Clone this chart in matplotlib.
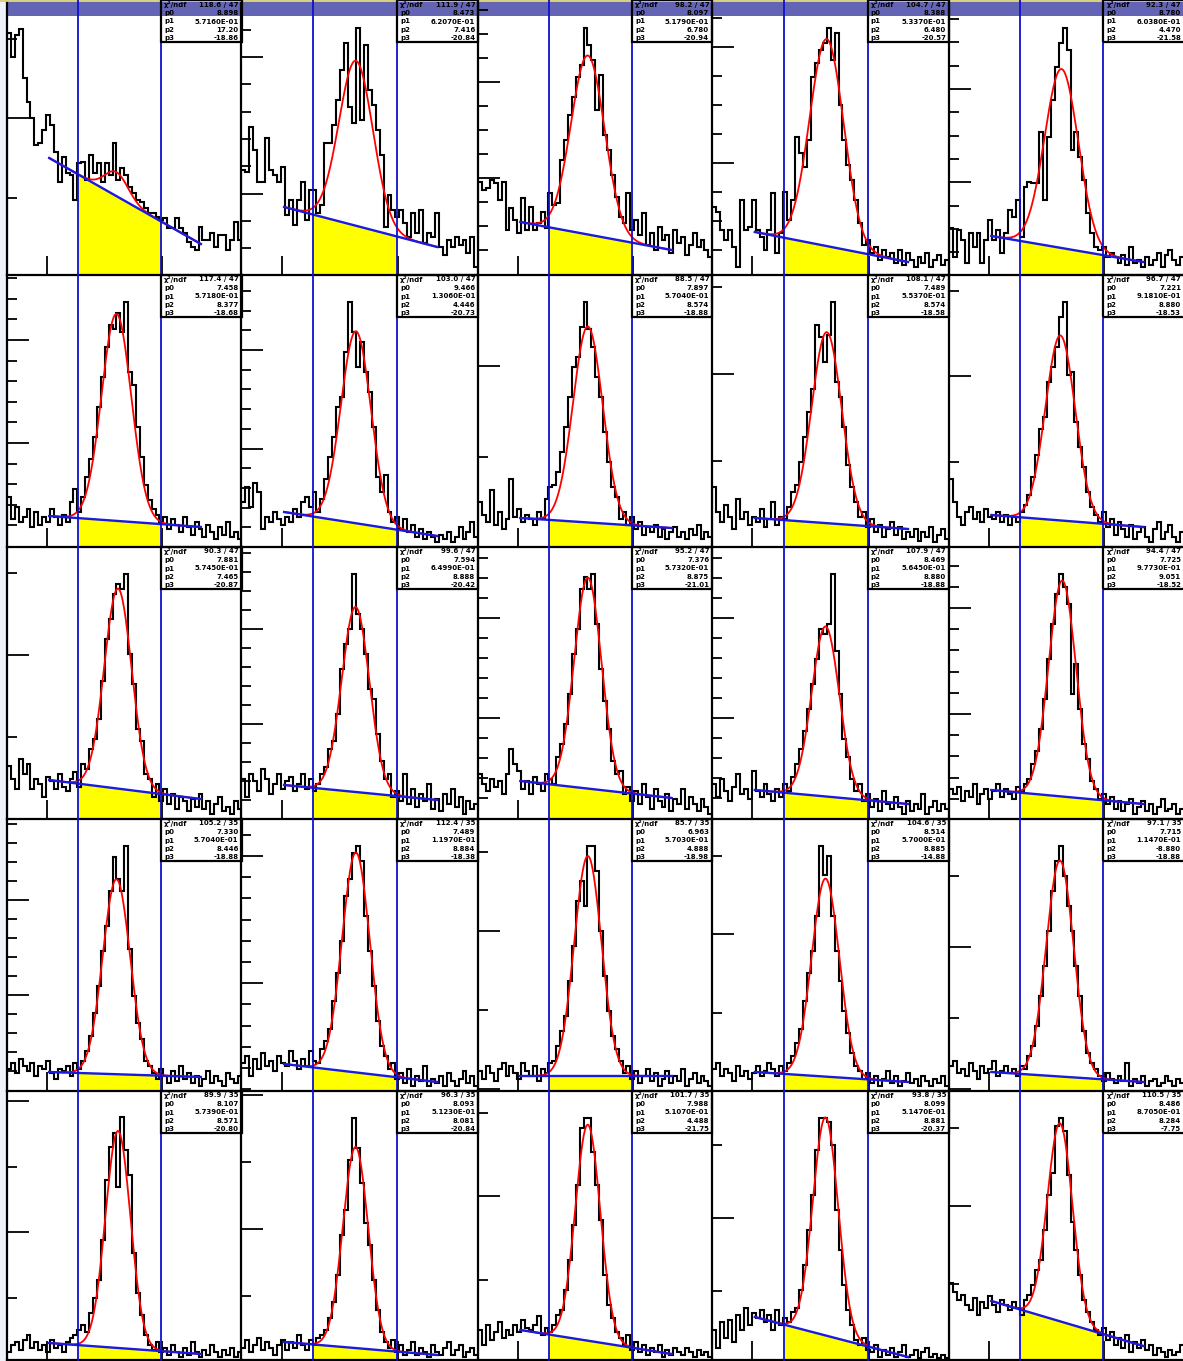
import numpy as np
import matplotlib
matplotlib.use("Agg")
import matplotlib.pyplot as plt
from matplotlib.patches import Rectangle

# ── entries per bin, one histogram per pad (row_col) ──────────
h_1_1 = [242, 218, 240, 246, 197, 173, 157, 130, 132, 145,
         160, 150, 123, 93, 118, 102, 100, 75, 112, 113,
         95, 120, 102, 112, 93, 112, 100, 132, 95, 107,
         100, 88, 82, 75, 73, 67, 62, 62, 58, 55,
         57, 47, 47, 57, 47, 42, 33, 28, 25, 48,
         35, 35, 42, 28, 40, 40, 25, 35, 53, 35]
h_1_2 = [105, 103, 148, 125, 93, 93, 137, 105, 100, 93,
         108, 60, 75, 50, 75, 93, 55, 85, 85, 62,
         70, 132, 132, 150, 175, 205, 232, 168, 152, 247,
         155, 230, 185, 170, 145, 120, 48, 80, 65, 58,
         65, 52, 38, 62, 42, 65, 32, 42, 38, 62,
         28, 20, 35, 28, 38, 30, 35, 22, 38, 8]
h_1_3 = [93, 85, 87, 95, 92, 75, 93, 45, 67, 55,
         42, 77, 45, 68, 45, 52, 63, 47, 82, 70,
         72, 115, 135, 160, 178, 198, 210, 247, 230, 215,
         165, 200, 140, 125, 100, 78, 58, 52, 82, 45,
         55, 40, 62, 30, 42, 25, 48, 35, 40, 22,
         45, 32, 38, 20, 30, 42, 28, 35, 25, 18]
h_1_4 = [68, 63, 45, 35, 45, 28, 8, 75, 45, 48,
         75, 45, 38, 25, 45, 82, 22, 42, 83, 55,
         75, 138, 122, 108, 135, 198, 212, 225, 232, 247,
         215, 242, 170, 135, 110, 95, 75, 52, 30, 35,
         22, 28, 15, 25, 18, 22, 12, 25, 10, 22,
         15, 8, 18, 12, 22, 8, 15, 20, 10, 15]
h_1_5 = [47, 18, 45, 35, 12, 42, 28, 42, 12, 35,
         55, 35, 45, 22, 42, 65, 58, 75, 38, 88,
         93, 92, 92, 143, 75, 138, 175, 208, 232, 247,
         225, 125, 143, 118, 95, 62, 42, 28, 25, 28,
         18, 22, 18, 12, 20, 10, 28, 12, 15, 8,
         18, 10, 15, 22, 8, 20, 25, 15, 10, 18]

h_2_1 = [50, 28, 40, 25, 30, 38, 20, 35, 22, 30,
         25, 38, 30, 22, 32, 25, 45, 58, 35, 50,
         70, 88, 110, 140, 170, 200, 222, 218, 234, 215,
         245, 175, 162, 120, 90, 62, 47, 38, 32, 25,
         30, 18, 28, 22, 15, 30, 20, 12, 25, 18,
         10, 22, 15, 8, 20, 12, 25, 10, 15, 8]
h_2_2 = [45, 60, 40, 64, 55, 18, 30, 25, 35, 28,
         22, 30, 25, 38, 30, 45, 50, 40, 55, 35,
         48, 68, 90, 110, 140, 150, 195, 245, 215, 180,
         205, 175, 155, 120, 70, 55, 72, 35, 25, 30,
         18, 28, 15, 22, 10, 18, 8, 15, 10, 5,
         12, 8, 15, 5, 10, 20, 8, 15, 25, 10]
h_2_3 = [45, 32, 25, 57, 22, 35, 18, 28, 68, 30,
         38, 25, 32, 28, 22, 35, 28, 48, 60, 62,
         75, 95, 120, 150, 180, 190, 220, 245, 218, 200,
         170, 150, 115, 85, 60, 50, 28, 35, 22, 30,
         18, 25, 12, 20, 15, 22, 10, 18, 8, 15,
         20, 10, 15, 8, 18, 12, 22, 8, 15, 10]
h_2_4 = [60, 35, 25, 42, 30, 18, 48, 28, 35, 22,
         30, 25, 38, 20, 28, 45, 22, 30, 28, 40,
         55, 62, 85, 110, 135, 158, 222, 210, 185, 212,
         245, 165, 150, 120, 82, 60, 45, 30, 35, 20,
         28, 15, 22, 10, 18, 25, 12, 20, 8, 15,
         10, 18, 6, 15, 10, 20, 5, 12, 18, 8]
h_2_5 = [68, 45, 30, 22, 35, 40, 28, 35, 25, 38,
         30, 28, 35, 25, 32, 22, 30, 25, 35, 42,
         52, 70, 92, 118, 130, 165, 180, 200, 230, 245,
         172, 175, 125, 100, 80, 55, 40, 32, 25, 35,
         20, 28, 12, 25, 18, 10, 22, 8, 15, 20,
         10, 5, 18, 25, 8, 15, 22, 10, 5, 15]

h_3_1 = [53, 40, 30, 60, 45, 55, 30, 40, 35, 22,
         42, 38, 30, 45, 32, 28, 40, 47, 32, 55,
         50, 70, 80, 100, 138, 180, 200, 225, 235, 230,
         245, 165, 135, 90, 78, 45, 40, 22, 35, 18,
         30, 15, 25, 10, 22, 18, 8, 20, 12, 25,
         10, 18, 5, 15, 22, 8, 12, 5, 18, 10]
h_3_2 = [40, 22, 45, 38, 28, 50, 40, 25, 35, 45,
         30, 38, 42, 28, 35, 45, 30, 40, 28, 35,
         45, 52, 70, 78, 105, 150, 175, 190, 245, 205,
         190, 165, 130, 120, 85, 58, 40, 45, 22, 28,
         18, 45, 15, 30, 12, 25, 18, 35, 10, 20,
         8, 25, 15, 30, 12, 22, 5, 18, 10, 15]
h_3_3 = [45, 35, 28, 40, 32, 38, 25, 45, 70, 55,
         48, 30, 38, 25, 42, 35, 28, 45, 40, 35,
         62, 75, 95, 125, 165, 190, 230, 242, 230, 245,
         195, 150, 118, 90, 58, 45, 48, 25, 32, 18,
         28, 15, 35, 22, 10, 30, 18, 12, 25, 8,
         20, 15, 30, 10, 22, 15, 8, 20, 12, 5]
h_3_4 = [35, 22, 40, 28, 18, 32, 45, 25, 30, 20,
         48, 28, 22, 35, 25, 18, 30, 22, 35, 28,
         42, 55, 70, 88, 110, 135, 160, 190, 185, 195,
         245, 168, 125, 80, 62, 40, 28, 35, 18, 25,
         12, 20, 8, 28, 15, 10, 22, 12, 5, 18,
         8, 15, 10, 25, 5, 12, 18, 8, 15, 10]
h_3_5 = [30, 25, 32, 18, 28, 22, 35, 15, 25, 30,
         20, 28, 35, 22, 30, 25, 20, 32, 28, 35,
         40, 55, 68, 90, 120, 160, 195, 225, 245, 232,
         215, 125, 155, 110, 75, 60, 38, 30, 20, 25,
         15, 22, 10, 18, 8, 15, 20, 5, 12, 18,
         8, 15, 5, 12, 20, 8, 10, 15, 5, 10]

h_4_1 = [22, 28, 18, 32, 25, 20, 28, 15, 25, 22,
         30, 18, 12, 22, 20, 25, 15, 28, 22, 30,
         40, 55, 78, 105, 140, 165, 200, 234, 212, 200,
         245, 142, 95, 68, 52, 30, 25, 18, 12, 22,
         15, 8, 20, 10, 25, 12, 18, 8, 15, 5,
         12, 20, 8, 15, 10, 5, 18, 12, 8, 15]
h_4_2 = [28, 35, 15, 32, 22, 38, 25, 30, 20, 35,
         28, 25, 40, 30, 22, 32, 25, 40, 30, 28,
         42, 50, 62, 90, 118, 150, 195, 212, 238, 245,
         230, 175, 140, 105, 70, 45, 35, 22, 28, 12,
         18, 8, 22, 5, 15, 10, 25, 5, 12, 8,
         15, 5, 18, 10, 5, 12, 20, 8, 15, 5]
h_4_3 = [20, 12, 25, 18, 10, 22, 28, 15, 25, 18,
         12, 28, 20, 15, 25, 10, 22, 18, 28, 30,
         45, 60, 75, 110, 145, 190, 210, 185, 245, 245,
         220, 160, 115, 80, 55, 42, 30, 18, 25, 12,
         20, 8, 15, 22, 10, 18, 5, 12, 20, 8,
         15, 10, 22, 5, 12, 18, 8, 15, 10, 5]
h_4_4 = [22, 28, 15, 22, 18, 10, 25, 15, 20, 12,
         18, 25, 15, 20, 28, 22, 15, 25, 20, 28,
         35, 48, 62, 90, 118, 140, 175, 245, 216, 235,
         175, 140, 110, 80, 58, 38, 25, 20, 12, 18,
         8, 15, 5, 12, 20, 8, 15, 5, 10, 18,
         8, 12, 5, 15, 10, 5, 12, 8, 15, 5]
h_4_5 = [25, 30, 18, 22, 15, 28, 20, 12, 25, 18,
         22, 30, 15, 20, 25, 18, 22, 15, 25, 22,
         35, 45, 65, 95, 125, 160, 200, 230, 245, 215,
         185, 160, 125, 95, 60, 38, 28, 22, 15, 10,
         18, 12, 8, 15, 10, 28, 5, 12, 8, 15,
         5, 10, 12, 5, 8, 15, 10, 5, 12, 8]

h_5_1 = [8, 15, 18, 10, 20, 25, 12, 18, 10, 15,
         8, 20, 12, 15, 8, 18, 22, 25, 30, 35,
         28, 47, 62, 80, 120, 180, 213, 227, 173, 243,
         210, 185, 107, 67, 45, 25, 15, 10, 18, 8,
         12, 5, 15, 8, 3, 12, 5, 18, 8, 3,
         10, 5, 15, 8, 3, 10, 5, 12, 3, 8]
h_5_2 = [12, 20, 8, 15, 22, 10, 18, 12, 5, 15,
         20, 10, 18, 12, 25, 15, 10, 20, 15, 22,
         25, 30, 42, 58, 85, 125, 150, 200, 242, 212,
         177, 137, 115, 80, 50, 28, 18, 12, 20, 8,
         15, 5, 10, 18, 5, 12, 8, 3, 15, 8,
         5, 12, 18, 5, 10, 15, 3, 8, 12, 5]
h_5_3 = [30, 15, 35, 20, 28, 38, 22, 30, 25, 35,
         28, 40, 32, 30, 35, 44, 25, 32, 28, 35,
         45, 50, 70, 100, 135, 175, 232, 242, 242, 208,
         175, 140, 85, 55, 42, 28, 22, 15, 25, 10,
         18, 8, 15, 5, 12, 8, 15, 3, 10, 5,
         12, 8, 5, 12, 8, 3, 10, 5, 8, 3]
h_5_4 = [30, 12, 38, 22, 40, 18, 45, 30, 52, 35,
         47, 42, 50, 38, 45, 30, 50, 35, 42, 38,
         48, 52, 70, 95, 130, 165, 210, 242, 242, 238,
         215, 150, 110, 75, 50, 35, 20, 15, 22, 10,
         8, 15, 3, 10, 5, 12, 3, 8, 15, 3,
         5, 10, 2, 8, 12, 3, 6, 2, 5, 2]
h_5_5 = [77, 68, 60, 65, 55, 50, 62, 45, 58, 52,
         64, 55, 48, 60, 55, 50, 58, 52, 45, 60,
         65, 75, 90, 100, 130, 165, 187, 234, 242, 229,
         185, 138, 110, 85, 60, 48, 38, 30, 25, 32,
         20, 28, 15, 22, 12, 25, 8, 18, 12, 20,
         10, 15, 5, 12, 8, 3, 10, 5, 8, 15]

COUNTS = [h_1_1, h_1_2, h_1_3, h_1_4, h_1_5,
          h_2_1, h_2_2, h_2_3, h_2_4, h_2_5,
          h_3_1, h_3_2, h_3_3, h_3_4, h_3_5,
          h_4_1, h_4_2, h_4_3, h_4_4, h_4_5,
          h_5_1, h_5_2, h_5_3, h_5_4, h_5_5]

# ── fit results: gaussian peak on a linear background ─────────
AMP = [24, 165, 179, 207, 179,
       207, 192, 196, 191, 185,
       200, 185, 211, 170, 216,
       195, 220, 220, 198, 216,
       217, 201, 216, 218, 198]
MEAN = [28.0, 29.0, 28.1, 29.0, 28.7,
        28.0, 29.0, 28.1, 29.0, 28.4,
        28.4, 28.9, 28.1, 28.7, 28.9,
        28.0, 29.0, 28.1, 28.7, 28.3,
        28.4, 28.9, 28.1, 28.7, 28.3]
SIGMA = [3.0, 4.3, 4.3, 4.3, 4.3,
         3.8, 3.8, 3.8, 3.8, 3.8,
         3.5, 3.5, 3.5, 3.5, 3.5,
         3.5, 3.5, 3.5, 3.5, 3.5,
         3.2, 3.2, 3.2, 3.2, 3.2]
BG_LO = [117, 68, 53, 43, 39,
         31, 35, 29, 29, 32,
         39, 34, 38, 29, 29,
         19, 27, 15, 19, 19,
         17, 18, 30, 43, 59]
BG_HI = [31, 28, 25, 13, 13,
         20, 11, 19, 18, 20,
         20, 19, 21, 15, 15,
         14, 9, 15, 9, 9,
         6, 5, 6, 3, 14]

# stats box entries
CHI2_NDF = ["118.6 / 47", "111.9 / 47", "98.2 / 47", "104.7 / 47", "92.3 / 47",
            "117.4 / 47", "103.0 / 47", "88.5 / 47", "108.1 / 47", "96.7 / 47",
            "90.3 / 47", "99.6 / 47", "95.2 / 47", "107.9 / 47", "94.4 / 47",
            "105.2 / 35", "112.4 / 35", "85.7 / 35", "104.6 / 35", "97.1 / 35",
            "89.9 / 35", "96.3 / 35", "101.7 / 35", "93.8 / 35", "110.5 / 35"]
P0 = ["8.898", "8.473", "8.097", "8.388", "8.780",
      "7.458", "9.466", "7.897", "7.489", "7.221",
      "7.881", "7.594", "7.376", "8.469", "7.725",
      "7.330", "7.489", "6.963", "8.514", "7.715",
      "8.107", "8.093", "7.988", "8.099", "8.486"]
P1 = ["5.7160E-01", "6.2070E-01", "5.1790E-01", "5.3370E-01", "6.0380E-01",
      "5.7180E-01", "1.3060E-01", "5.7040E-01", "5.5370E-01", "9.1810E-01",
      "5.7450E-01", "6.4990E-01", "5.7320E-01", "5.6450E-01", "9.7730E-01",
      "5.7040E-01", "1.1970E-01", "5.7030E-01", "5.7000E-01", "1.1470E-01",
      "5.7390E-01", "5.1230E-01", "5.1070E-01", "5.1470E-01", "8.7050E-01"]
P2 = ["17.20", "7.416", "6.780", "6.480", "4.470",
      "8.377", "4.446", "8.574", "8.574", "8.880",
      "7.465", "8.888", "8.875", "8.880", "9.051",
      "8.446", "8.884", "4.888", "8.885", "-8.880",
      "8.571", "8.081", "4.488", "8.881", "8.284"]
P3 = ["-18.86", "-20.84", "-20.94", "-20.57", "-21.58",
      "-18.68", "-20.73", "-18.88", "-18.58", "-18.53",
      "-20.87", "-20.42", "-21.01", "-18.88", "-18.52",
      "-18.88", "-18.38", "-18.98", "-14.88", "-18.88",
      "-20.80", "-20.84", "-21.75", "-20.37", "-7.75"]

NBINS = 60
FIT_LO, FIT_HI = 10.8, 49.6      # fit range (bin units)
WIN_LO, WIN_HI = 18.2, 39.4      # signal window

# y tick layout per pad: minor step, majors every n, one major level
YT_STEP = [79.5, 27.3, 24.0, 29.0, 23.3,
           20.6, 19.7, 91.0, 87.0, 85.5,
           82.0, 19.0, 20.0, 20.0, 21.2,
           19.0, 21.2, 79.0, 78.5, 71.0,
           65.5, 67.0, 83.5, 73.0, 78.0]
YT_EVERY = [2, 5, 4, 4, 4,
            5, 5, 2, 2, 2,
            2, 5, 5, 5, 5,
            5, 6, 2, 2, 2,
            2, 2, 2, 2, 2]
YT_ANCHOR = [157, 218, 193, 228, 186,
             207, 197, 181, 173, 171,
             164, 190, 201, 201, 211,
             191, 235, 160, 157, 144,
             128, 131, 164, 142, 154]
XT_MAJOR = [10.2, 39.6]

# ── canvas layout (pixels) ────────────────────────────────────
W_PX, H_PX = 1183, 1361
COL_LEFT = [7, 241.5, 478.3, 712.2, 949.1]
COL_WIDTH = [234.5, 236.8, 233.9, 236.9, 235.0]
ROW_TOP = [3, 275, 547, 819, 1091]
ROW_BOTTOM = [275, 547, 819, 1091, 1360]
BOX_H = 42

fig = plt.figure(figsize=(W_PX / 100, H_PX / 100), dpi=100)

# left margin strip and the pad title band across the top
fig.add_artist(Rectangle((0, 0), 6 / W_PX, 1, transform=fig.transFigure,
                         facecolor="#eef2f9", edgecolor="none", zorder=-2))
fig.add_artist(Rectangle((6 / W_PX, 1 - 16 / H_PX), 1 - 6 / W_PX, 14.5 / H_PX,
                         transform=fig.transFigure, facecolor="#6464b4",
                         edgecolor="none", zorder=-1))
fig.add_artist(Rectangle((0, 1 - 1.5 / H_PX), 1, 1.5 / H_PX,
                         transform=fig.transFigure, facecolor="#d8d07c",
                         edgecolor="none", zorder=-1))

edges = np.arange(NBINS + 1)
xf = np.linspace(FIT_LO, FIT_HI, 400)
xw = np.linspace(WIN_LO, WIN_HI, 100)
txt = dict(fontsize=5.0, fontweight="bold", family="DejaVu Sans", color="black")

for k in range(25):
    r, c = divmod(k, 5)
    x0, w = COL_LEFT[c], COL_WIDTH[c]
    top, bot = ROW_TOP[r], ROW_BOTTOM[r]
    h = bot - top
    ax = fig.add_axes([x0 / W_PX, 1 - bot / H_PX, w / W_PX, h / H_PX])
    ax.set_facecolor("none")
    ax.set_xlim(0, NBINS)
    ax.set_ylim(0, h)

    def bg(x):
        return BG_LO[k] + (BG_HI[k] - BG_LO[k]) * (x - FIT_LO) / (FIT_HI - FIT_LO)

    # background area inside the signal window
    ax.fill_between(xw, 0, bg(xw), color="#ffff00", lw=0, zorder=1)
    ax.stairs(COUNTS[k], edges, color="black", lw=1.5, zorder=3)

    peak = AMP[k] * np.exp(-0.5 * ((xf - MEAN[k]) / SIGMA[k]) ** 2)
    ax.plot(xf, bg(xf) + peak, color="#ff0000", lw=1.3, zorder=4)
    ax.plot(xf, bg(xf), color="#1a1ae0", lw=1.7, zorder=5)

    ext = 1 + (top - (0 if r == 0 else top)) / h
    for xv in (WIN_LO, WIN_HI):
        ax.axvline(xv, ymin=0, ymax=ext, color="#1010cc", lw=1.3,
                   zorder=6, clip_on=False)

    # frame and ticks
    for s in ("top", "right"):
        ax.spines[s].set_visible(False)
    for s in ("left", "bottom"):
        ax.spines[s].set_linewidth(1.6)
    idx = np.arange(-40, 41)
    lv = YT_ANCHOR[k] + idx * YT_STEP[k]
    keep = (lv > 1) & (lv < h - 1)
    ax.set_yticks(lv[keep & (idx % YT_EVERY[k] == 0)])
    ax.set_yticks(lv[keep & (idx % YT_EVERY[k] != 0)], minor=True)
    ax.set_xticks(XT_MAJOR)
    ax.tick_params(axis="y", which="major", direction="in", length=16, width=1.3,
                   labelleft=False, right=False)
    ax.tick_params(axis="y", which="minor", direction="in", length=7, width=1.3,
                   right=False)
    ax.tick_params(axis="x", which="major", direction="in", length=14, width=1.3,
                   labelbottom=False, top=False)

    # fit statistics box in the upper right corner
    box_top = 0 if r == 0 else top

    def yf(y_abs):
        return (bot - y_abs) / h

    bx = WIN_HI / NBINS
    ax.add_patch(Rectangle((bx, yf(box_top + BOX_H)), 1 - bx,
                           yf(box_top) - yf(box_top + BOX_H),
                           transform=ax.transAxes, fill=False, lw=1.6,
                           edgecolor="black", zorder=8, clip_on=False))
    rows = [("χ²/ndf", CHI2_NDF[k]), ("p0", P0[k]), ("p1", P1[k]),
            ("p2", P2[k]), ("p3", P3[k])]
    for (name, val), dy in zip(rows, [4.5, 13, 21.5, 30, 38]):
        yy = yf(box_top + dy)
        ax.text(bx + 3 / w, yy, name, ha="left", va="center",
                transform=ax.transAxes, zorder=9, **txt)
        ax.text(1 - 3 / w, yy, val, ha="right", va="center",
                transform=ax.transAxes, zorder=9, **txt)

fig.savefig("out.png", dpi=100)
